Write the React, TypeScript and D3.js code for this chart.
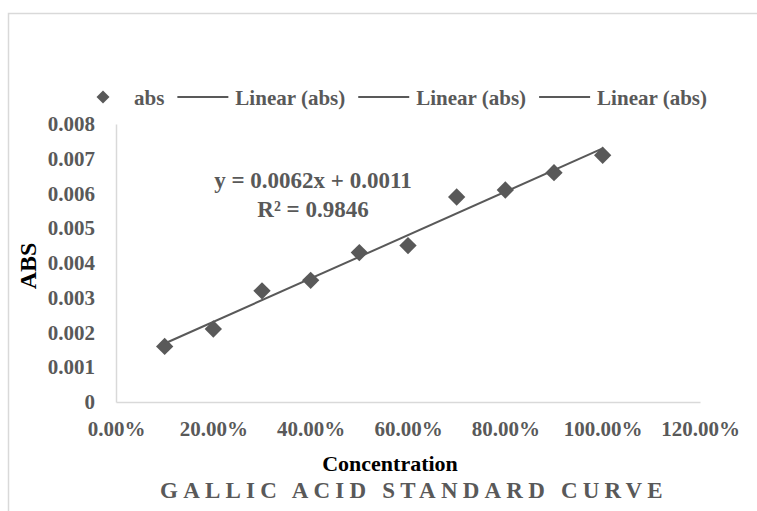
import { useEffect, useRef } from 'react';
import * as d3 from 'd3';

// concentration (fraction) vs absorbance
const concentration = [0.1, 0.2, 0.3, 0.4, 0.5, 0.6, 0.7, 0.8, 0.9, 1.0];
const absValues = [0.0016, 0.0021, 0.0032, 0.0035, 0.0043, 0.0045, 0.0059, 0.0061, 0.0066, 0.0071];
const xTicks = [0, 0.2, 0.4, 0.6, 0.8, 1.0, 1.2];
const yTicks = [0, 0.001, 0.002, 0.003, 0.004, 0.005, 0.006, 0.007, 0.008];
const legendLabels = ['abs', 'Linear (abs)', 'Linear (abs)', 'Linear (abs)'];
const equationLines = ['y = 0.0062x + 0.0011', 'R² = 0.9846'];

const W = 757;
const H = 511;
const GREY = '#595959';
const FONT = '"Liberation Serif", "Times New Roman", serif';

const App = () => {
    const ref = useRef<SVGSVGElement | null>(null);

    useEffect(() => {
        const svg = d3.select(ref.current);
        svg.selectAll('*').remove();

        const x = d3.scaleLinear().domain([0, 1.2]).range([116, 700]);
        const y = d3.scaleLinear().domain([0, 0.008]).range([402, 124]);

        // chart area border (cut off at the right/bottom like the screenshot)
        svg.append('rect')
            .attr('x', 8.5).attr('y', 13.5)
            .attr('width', W).attr('height', H)
            .attr('fill', '#fff')
            .attr('stroke', '#d9d9d9')
            .attr('stroke-width', 1.5);

        // axes
        const yAxis = svg.append('g')
            .attr('transform', `translate(${x(0)},0)`)
            .call(d3.axisLeft(y).tickValues(yTicks).tickSize(0).tickPadding(21)
                .tickFormat(d => (+d === 0 ? '0' : (+d).toFixed(3))));
        yAxis.select('.domain').attr('stroke', '#d9d9d9').attr('stroke-width', 1.5);
        yAxis.selectAll('text')
            .attr('font-family', FONT).attr('font-weight', 'bold')
            .attr('font-size', 21).attr('fill', GREY);

        const xAxis = svg.append('g')
            .attr('transform', `translate(0,${y(0)})`)
            .call(d3.axisBottom(x).tickValues(xTicks).tickSize(0).tickPadding(19)
                .tickFormat(d => `${(+d * 100).toFixed(2)}%`));
        xAxis.select('.domain').attr('stroke', '#d9d9d9').attr('stroke-width', 1.5);
        xAxis.selectAll('text')
            .attr('font-family', FONT).attr('font-weight', 'bold')
            .attr('font-size', 21).attr('fill', GREY);

        // points
        const diamond = d3.symbol(d3.symbolSquare, 150);
        svg.append('g')
            .selectAll('path')
            .data(concentration)
            .join('path')
            .attr('d', diamond)
            .attr('transform', (d, i) => `translate(${x(d)},${y(absValues[i])}) rotate(45)`)
            .attr('fill', GREY);

        // linear trendline
        const mx = d3.mean(concentration) as number;
        const my = d3.mean(absValues) as number;
        const sxy = d3.sum(concentration, (d, i) => (d - mx) * (absValues[i] - my));
        const sxx = d3.sum(concentration, d => (d - mx) ** 2);
        const slope = sxy / sxx;
        const icpt = my - slope * mx;
        const ends = d3.extent(concentration) as [number, number];
        svg.append('path')
            .datum(ends)
            .attr('d', d3.line<number>().x(d => x(d)).y(d => y(slope * d + icpt)))
            .attr('stroke', GREY)
            .attr('stroke-width', 2)
            .attr('fill', 'none');

        // equation
        svg.append('g')
            .selectAll('text')
            .data(equationLines)
            .join('text')
            .attr('x', 313)
            .attr('y', (d, i) => 188 + i * 29)
            .attr('text-anchor', 'middle')
            .attr('font-family', FONT).attr('font-weight', 'bold')
            .attr('font-size', 23).attr('fill', GREY)
            .text(d => d);

        // legend
        const legend = svg.append('g');
        let lx = 90;
        const ly = 97;
        legendLabels.forEach((label, i) => {
            if (i === 0) {
                legend.append('path')
                    .attr('d', d3.symbol(d3.symbolSquare, 85)())
                    .attr('transform', `translate(${lx + 13},${ly}) rotate(45)`)
                    .attr('fill', GREY);
                lx += 44;
            } else {
                legend.append('line')
                    .attr('x1', lx).attr('x2', lx + 51)
                    .attr('y1', ly).attr('y2', ly)
                    .attr('stroke', GREY).attr('stroke-width', 2);
                lx += 58;
            }
            const t = legend.append('text')
                .attr('x', lx).attr('y', ly + 8)
                .attr('font-family', FONT).attr('font-weight', 'bold')
                .attr('font-size', 21).attr('fill', GREY)
                .text(label);
            lx += (t.node() as SVGTextElement).getComputedTextLength() + 13;
        });

        // axis titles
        svg.append('text')
            .attr('transform', 'translate(36,266) rotate(-90)')
            .attr('text-anchor', 'middle')
            .attr('font-family', FONT).attr('font-weight', 'bold')
            .attr('font-size', 24).attr('fill', '#000')
            .text('ABS');

        svg.append('text')
            .attr('x', 390).attr('y', 471)
            .attr('text-anchor', 'middle')
            .attr('font-family', FONT).attr('font-weight', 'bold')
            .attr('font-size', 22).attr('fill', '#000')
            .text('Concentration');

        svg.append('text')
            .attr('x', 414).attr('y', 498)
            .attr('text-anchor', 'middle')
            .attr('font-family', FONT).attr('font-weight', 'bold')
            .attr('font-size', 23).attr('fill', GREY)
            .attr('letter-spacing', 5.2)
            .text('GALLIC ACID STANDARD CURVE');
    }, []);

    return (
        <svg ref={ref} width={W} height={H}
            style={{ position: 'absolute', left: 0, top: 0, background: '#fff' }} />
    );
};

export default App;
